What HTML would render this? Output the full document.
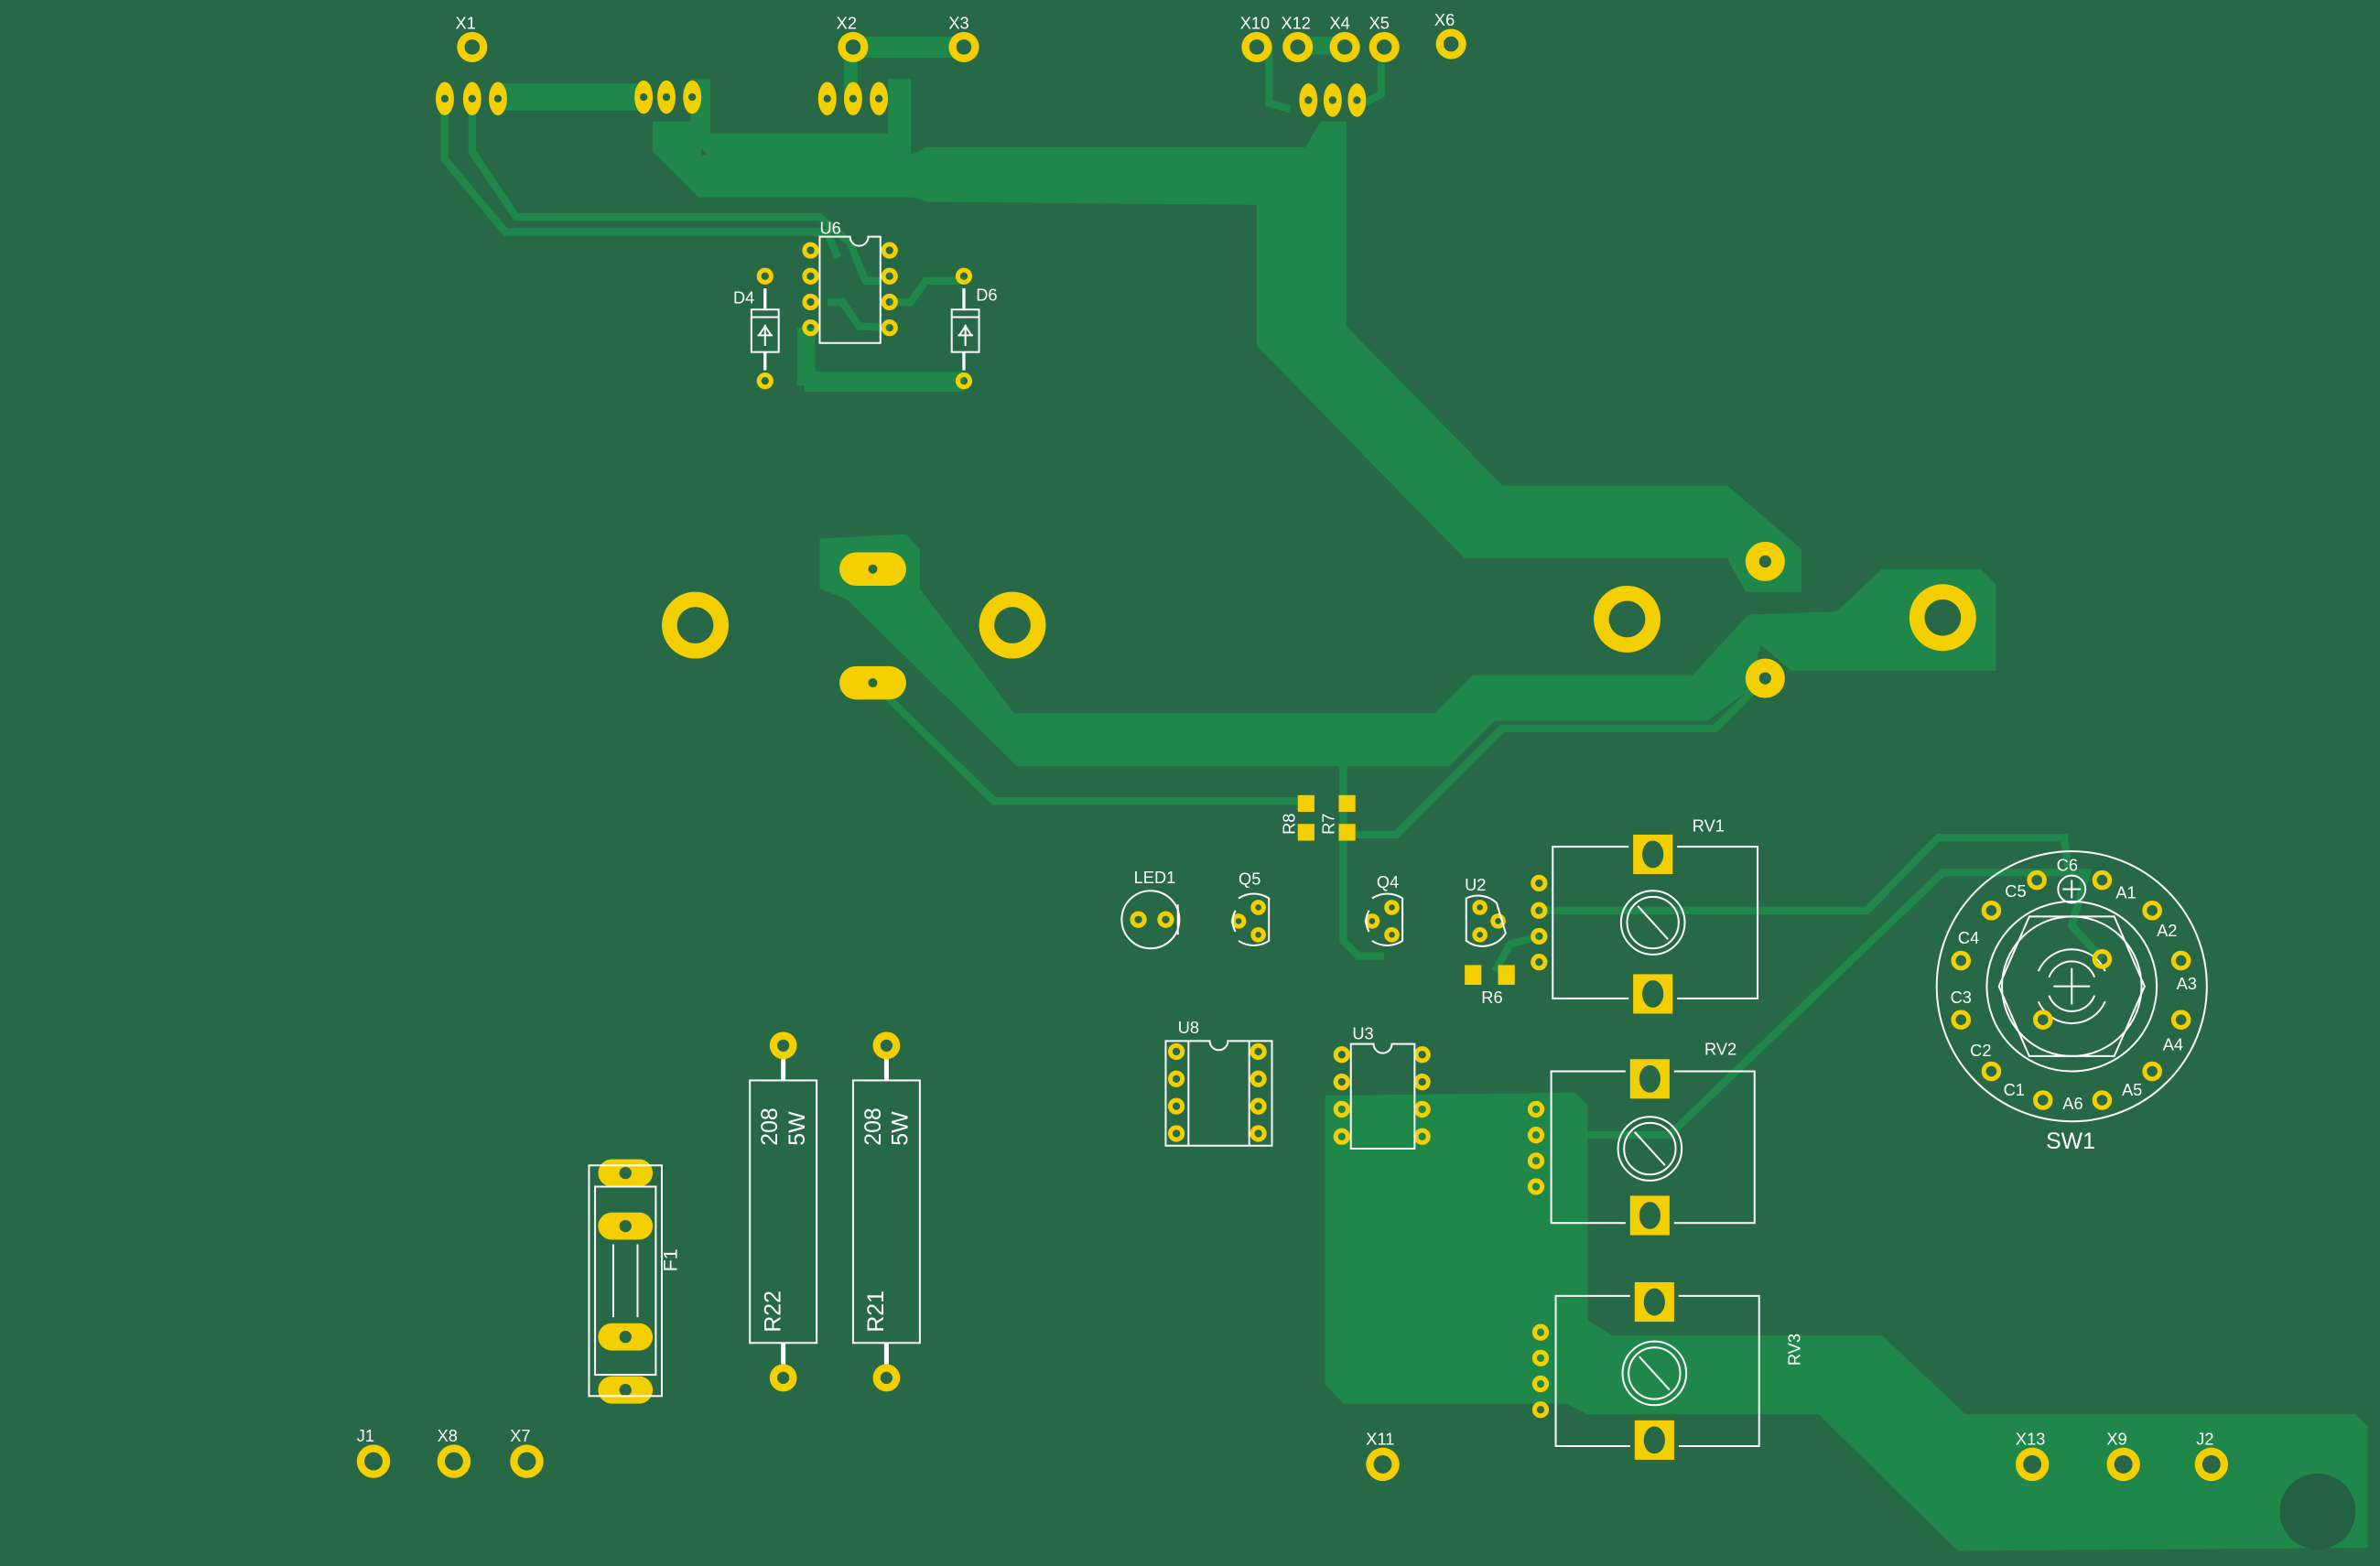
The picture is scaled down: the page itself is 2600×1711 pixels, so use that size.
<!DOCTYPE html>
<html><head><meta charset="utf-8"><style>html,body{margin:0;padding:0;background:#276846}svg{display:block}</style></head>
<body>
<svg width="2600" height="1711" viewBox="0 0 1568 1032" xmlns="http://www.w3.org/2000/svg" font-family="Liberation Sans, sans-serif">
<rect width="1568" height="1032" fill="#276846"/>
<g fill="#20874a" stroke="none">
<polygon points="430,80 462,80 462,102 600,102 610,97 860,97 870,80 887,80 887,215 990,320 1138,320 1187,362 1187,390 1150,390 1138,368 965,368 828,228 828,135 612,133 600,130 460,130 430,100"/>
<polygon points="540,355 597,352 606,362 606,388 668,470 945,470 970,445 1115,445 1152,405 1210,403 1240,375 1305,375 1315,385 1315,442 1180,442 1160,425 1152,455 1125,475 985,475 955,505 670,505 558,395 540,388"/>
<polygon points="873,722 1038,720 1046,728 1046,870 1062,880 1240,880 1295,932 1552,932 1560,940 1560,1020 1290,1022 1198,932 1046,932 1032,925 885,925 873,912"/>
<rect x="328" y="55" width="92" height="18"/>
<polygon points="455,52 468,52 468,88 585,88 585,52 600,52 600,102 466,102 455,90"/>
<rect x="562" y="24" width="73" height="14"/>
<rect x="556" y="30" width="9" height="35"/>
<rect x="850" y="24" width="40" height="12"/>
<rect x="530" y="245" width="105" height="13"/>
<rect x="525" y="216" width="12" height="38"/>
</g>
<g fill="none" stroke="#20874a" stroke-width="5">
<polyline points="293,65 293,105 333,153 545,153 552,170"/>
<polyline points="311,65 311,100 340,143 540,143 560,160 570,185 580,185"/>
<polyline points="575,450 655,528 860,528"/>
<polyline points="885,505 885,620 895,630 912,630"/>
<polyline points="888,550 920,550 990,480 1130,480 1163,447"/>
<polyline points="1014,600 1230,600 1277,552 1360,552 1363,575"/>
<polyline points="1014,748 1100,748 1280,575 1375,575 1365,610 1385,632"/>
<polyline points="836,30 836,68 850,72"/>
<polyline points="910,30 910,62 895,70"/>
<polyline points="985,640 995,622 1014,617"/>
<polyline points="586,199 600,199 610,185 636,185"/>
<polyline points="545,199 555,199 566,215 586,216"/>
</g>
<g fill="#f4cf00">
<circle cx="311" cy="31" r="10"/><circle cx="562" cy="31" r="10"/><circle cx="635" cy="31" r="10"/>
<circle cx="828" cy="31" r="10"/><circle cx="855" cy="31" r="10"/><circle cx="886" cy="31" r="10"/><circle cx="912" cy="31" r="10"/><circle cx="956" cy="29" r="10"/>
<circle cx="246" cy="963" r="11"/><circle cx="299" cy="963" r="11"/><circle cx="347" cy="963" r="11"/><circle cx="911" cy="965" r="11"/><circle cx="1339" cy="965" r="11"/><circle cx="1399" cy="965" r="11"/><circle cx="1457" cy="965" r="11"/>
<circle cx="516" cy="689" r="9"/><circle cx="516" cy="908" r="9"/><circle cx="584" cy="689" r="9"/><circle cx="584" cy="908" r="9"/>
<circle cx="458" cy="412" r="22"/><circle cx="667" cy="412" r="22"/><circle cx="1072" cy="408" r="22"/><circle cx="1280" cy="407" r="22"/>
<circle cx="1163" cy="370" r="13"/><circle cx="1163" cy="447" r="13"/>
<rect x="553" y="364" width="44" height="22" rx="11"/><rect x="553" y="439" width="44" height="22" rx="11"/>
<ellipse cx="293" cy="65" rx="6" ry="11"/><ellipse cx="311" cy="65" rx="6" ry="11"/><ellipse cx="328" cy="65" rx="6" ry="11"/>
<ellipse cx="424" cy="64" rx="6" ry="11"/><ellipse cx="439" cy="64" rx="6" ry="11"/><ellipse cx="456" cy="64" rx="6" ry="11"/>
<ellipse cx="545" cy="65" rx="6" ry="11"/><ellipse cx="562" cy="65" rx="6" ry="11"/><ellipse cx="579" cy="65" rx="6" ry="11"/>
<ellipse cx="862" cy="66" rx="6" ry="11"/><ellipse cx="878" cy="66" rx="6" ry="11"/><ellipse cx="894" cy="66" rx="6" ry="11"/>
<rect x="394" y="764" width="36" height="18" rx="9"/><rect x="394" y="799" width="36" height="18" rx="9"/><rect x="394" y="872" width="36" height="18" rx="9"/><rect x="394" y="907" width="36" height="18" rx="9"/>
<rect x="1076" y="550" width="26" height="26"/><rect x="1076" y="642" width="26" height="26"/>
<rect x="1074" y="698" width="26" height="26"/><rect x="1074" y="788" width="26" height="26"/>
<rect x="1077" y="845" width="26" height="26"/><rect x="1077" y="936" width="26" height="26"/>
<rect x="855" y="524" width="11" height="11"/><rect x="855" y="543" width="11" height="11"/><rect x="882" y="524" width="11" height="11"/><rect x="882" y="543" width="11" height="11"/>
<rect x="965" y="636" width="11" height="13"/><rect x="987" y="636" width="11" height="13"/>
</g>
<g fill="none" stroke="#f4cf00" stroke-width="3">
<circle cx="534" cy="165" r="4"/><circle cx="534" cy="182" r="4"/><circle cx="534" cy="199" r="4"/><circle cx="534" cy="216" r="4"/>
<circle cx="586" cy="165" r="4"/><circle cx="586" cy="182" r="4"/><circle cx="586" cy="199" r="4"/><circle cx="586" cy="216" r="4"/>
<circle cx="504" cy="182" r="4"/><circle cx="504" cy="251" r="4"/><circle cx="635" cy="182" r="4"/><circle cx="635" cy="251" r="4"/>
<circle cx="775" cy="693" r="4"/><circle cx="775" cy="711" r="4"/><circle cx="775" cy="729" r="4"/><circle cx="775" cy="747" r="4"/>
<circle cx="829" cy="693" r="4"/><circle cx="829" cy="711" r="4"/><circle cx="829" cy="729" r="4"/><circle cx="829" cy="747" r="4"/>
<circle cx="884" cy="695" r="4"/><circle cx="884" cy="713" r="4"/><circle cx="884" cy="731" r="4"/><circle cx="884" cy="749" r="4"/>
<circle cx="937" cy="695" r="4"/><circle cx="937" cy="713" r="4"/><circle cx="937" cy="731" r="4"/><circle cx="937" cy="749" r="4"/>
<circle cx="1014" cy="582" r="4"/><circle cx="1014" cy="600" r="4"/><circle cx="1014" cy="617" r="4"/><circle cx="1014" cy="634" r="4"/>
<circle cx="1012" cy="731" r="4"/><circle cx="1012" cy="748" r="4"/><circle cx="1012" cy="765" r="4"/><circle cx="1012" cy="782" r="4"/>
<circle cx="1015" cy="878" r="4"/><circle cx="1015" cy="895" r="4"/><circle cx="1015" cy="912" r="4"/><circle cx="1015" cy="929" r="4"/>
<circle cx="750" cy="606" r="4"/><circle cx="768" cy="606" r="4"/>
<circle cx="829" cy="598" r="3.5"/><circle cx="816" cy="607" r="3.5"/><circle cx="829" cy="616" r="3.5"/>
<circle cx="917" cy="598" r="3.5"/><circle cx="904" cy="607" r="3.5"/><circle cx="917" cy="616" r="3.5"/>
<circle cx="975" cy="598" r="3.5"/><circle cx="987" cy="607" r="3.5"/><circle cx="975" cy="616" r="3.5"/>
</g>
<g fill="#276846">
<circle cx="311" cy="31" r="5"/><circle cx="562" cy="31" r="5"/><circle cx="635" cy="31" r="5"/>
<circle cx="828" cy="31" r="5"/><circle cx="855" cy="31" r="5"/><circle cx="886" cy="31" r="5"/><circle cx="912" cy="31" r="5"/><circle cx="956" cy="29" r="5"/>
<circle cx="246" cy="963" r="6"/><circle cx="299" cy="963" r="6"/><circle cx="347" cy="963" r="6"/><circle cx="911" cy="965" r="6"/><circle cx="1339" cy="965" r="6"/><circle cx="1399" cy="965" r="6"/><circle cx="1457" cy="965" r="6"/>
<circle cx="516" cy="689" r="4"/><circle cx="516" cy="908" r="4"/><circle cx="584" cy="689" r="4"/><circle cx="584" cy="908" r="4"/>
<circle cx="458" cy="412" r="12"/><circle cx="667" cy="412" r="12"/><circle cx="1072" cy="408" r="12"/><circle cx="1280" cy="407" r="12"/>
<circle cx="1163" cy="370" r="4"/><circle cx="1163" cy="447" r="4"/>
<circle cx="575" cy="375" r="3"/><circle cx="575" cy="450" r="3"/>
<circle cx="293" cy="65" r="2.5"/><circle cx="311" cy="65" r="2.5"/><circle cx="328" cy="65" r="2.5"/><circle cx="424" cy="64" r="2.5"/><circle cx="439" cy="64" r="2.5"/><circle cx="456" cy="64" r="2.5"/><circle cx="545" cy="65" r="2.5"/><circle cx="562" cy="65" r="2.5"/><circle cx="579" cy="65" r="2.5"/><circle cx="862" cy="66" r="2.5"/><circle cx="878" cy="66" r="2.5"/><circle cx="894" cy="66" r="2.5"/>
<circle cx="412" cy="773" r="4"/><circle cx="412" cy="808" r="4"/><circle cx="412" cy="881" r="4"/><circle cx="412" cy="916" r="4"/>
<ellipse cx="1089" cy="563" rx="7" ry="9"/><ellipse cx="1089" cy="655" rx="7" ry="9"/><ellipse cx="1087" cy="711" rx="7" ry="9"/><ellipse cx="1087" cy="801" rx="7" ry="9"/><ellipse cx="1090" cy="858" rx="7" ry="9"/><ellipse cx="1090" cy="949" rx="7" ry="9"/>
<circle cx="1527" cy="996" r="25" fill="#246142"/>
</g>
<g fill="none" stroke="#fff" stroke-width="1.2">
<path d="M540,156 H560 A6,6 0 0 0 572,156 H580 V226 H540 Z"/>
<rect x="495" y="204" width="18" height="28"/><line x1="495" y1="209" x2="513" y2="209"/><line x1="504" y1="190" x2="504" y2="204" stroke-width="2"/><line x1="504" y1="232" x2="504" y2="244" stroke-width="2"/>
<path d="M499,221 h10 M504,214 v14 M500,221 l4,-6 l4,6"/>
<rect x="627" y="204" width="18" height="28"/><line x1="627" y1="209" x2="645" y2="209"/><line x1="635" y1="190" x2="635" y2="204" stroke-width="2"/><line x1="635" y1="232" x2="635" y2="244" stroke-width="2"/>
<path d="M631,221 h10 M636,214 v14 M632,221 l4,-6 l4,6"/>
<path d="M768,686 H797 A6,6 0 0 0 809,686 H838 V755 H768 Z"/><line x1="783" y1="686" x2="783" y2="755"/><line x1="823" y1="686" x2="823" y2="755"/>
<path d="M890,688 H905 A6,6 0 0 0 917,688 H932 V757 H890 Z"/>
<circle cx="758" cy="606" r="19"/><path d="M776,596 v20"/>
<path d="M816,592 a18,18 0 0 1 20,0 v28 a18,18 0 0 1 -20,0 M814,600 a14,14 0 0 0 0,14"/>
<path d="M904,592 a18,18 0 0 1 20,0 v28 a18,18 0 0 1 -20,0 M902,600 a14,14 0 0 0 0,14"/>
<path d="M966,592 a18,18 0 0 1 20,3 l6,20 a18,18 0 0 1 -26,5 Z"/>
<path d="M1073,558 H1023 V658 H1073 M1105,558 H1158 V658 H1105"/>
<circle cx="1089" cy="608" r="21"/><circle cx="1089" cy="608" r="17"/><line x1="1079" y1="597" x2="1099" y2="619"/>
<path d="M1071,706 H1022 V806 H1071 M1103,706 H1156 V806 H1103"/>
<circle cx="1087" cy="757" r="21"/><circle cx="1087" cy="757" r="17"/><line x1="1077" y1="746" x2="1097" y2="768"/>
<path d="M1074,854 H1025 V953 H1074 M1106,854 H1159 V953 H1106"/>
<circle cx="1090" cy="905" r="21"/><circle cx="1090" cy="905" r="17"/><line x1="1080" y1="894" x2="1100" y2="916"/>
<rect x="494" y="712" width="44" height="173"/><rect x="562" y="712" width="44" height="173"/>
<line x1="516" y1="698" x2="516" y2="712" stroke-width="3"/><line x1="516" y1="885" x2="516" y2="899" stroke-width="3"/>
<line x1="584" y1="698" x2="584" y2="712" stroke-width="3"/><line x1="584" y1="885" x2="584" y2="899" stroke-width="3"/>
<rect x="388" y="768" width="48" height="152"/><rect x="392" y="782" width="40" height="124"/><line x1="404" y1="820" x2="404" y2="868"/><line x1="420" y1="820" x2="420" y2="868"/>
<circle cx="1365" cy="650" r="89"/><circle cx="1365" cy="650" r="56"/><circle cx="1365" cy="650" r="46"/>
<polygon points="1317,650 1337,604 1393,604 1413,650 1393,696 1337,696"/>
<path d="M1343,640 a24,24 0 0 1 44,0 M1343,660 a24,24 0 0 0 44,0 M1350,644 a16,16 0 0 1 30,0 M1350,656 a16,16 0 0 0 30,0"/>
<path d="M1365,638 v24 M1353,650 h24"/>
<circle cx="1365" cy="586" r="9"/><path d="M1365,580 v12 M1359,586 h12"/>
</g>
<g fill="none" stroke="#f4cf00" stroke-width="3">
<circle cx="1342" cy="580" r="5"/><circle cx="1385" cy="580" r="5"/><circle cx="1418" cy="600" r="5"/><circle cx="1437" cy="633" r="5"/><circle cx="1437" cy="672" r="5"/><circle cx="1418" cy="706" r="5"/><circle cx="1385" cy="725" r="5"/><circle cx="1346" cy="725" r="5"/><circle cx="1312" cy="706" r="5"/><circle cx="1292" cy="672" r="5"/><circle cx="1292" cy="633" r="5"/><circle cx="1312" cy="600" r="5"/>
<circle cx="1385" cy="632" r="5"/><circle cx="1346" cy="672" r="5"/>
</g>
<g fill="#fff" font-size="11">
<text x="300" y="19">X1</text><text x="551" y="19">X2</text><text x="625" y="19">X3</text>
<text x="817" y="19">X10</text><text x="844" y="19">X12</text><text x="876" y="19">X4</text><text x="902" y="19">X5</text><text x="945" y="17">X6</text>
<text x="540" y="154">U6</text><text x="483" y="200">D4</text><text x="643" y="198">D6</text>
<text x="747" y="582">LED1</text><text x="816" y="583">Q5</text><text x="907" y="585">Q4</text><text x="965" y="587">U2</text><text x="976" y="661">R6</text>
<text x="776" y="681">U8</text><text x="891" y="685">U3</text>
<text x="1115" y="548">RV1</text><text x="1123" y="695">RV2</text>
<text x="235" y="950">J1</text><text x="288" y="950">X8</text><text x="336" y="950">X7</text><text x="900" y="952">X11</text><text x="1328" y="952">X13</text><text x="1388" y="952">X9</text><text x="1447" y="952">J2</text>
<text transform="translate(853,550) rotate(-90)">R8</text><text transform="translate(879,550) rotate(-90)">R7</text>
<text transform="translate(1186,900) rotate(-90)">RV3</text>
<text transform="translate(446,838) rotate(-90)" font-size="13">F1</text>
<text transform="translate(512,755) rotate(-90)" font-size="15">208</text><text transform="translate(530,755) rotate(-90)" font-size="15">5W</text>
<text transform="translate(580,755) rotate(-90)" font-size="15">208</text><text transform="translate(598,755) rotate(-90)" font-size="15">5W</text>
<text transform="translate(514,878) rotate(-90)" font-size="15">R22</text><text transform="translate(582,878) rotate(-90)" font-size="15">R21</text>
<text x="1355" y="574">C6</text><text x="1321" y="591">C5</text><text x="1394" y="592">A1</text><text x="1290" y="622">C4</text><text x="1421" y="617">A2</text><text x="1285" y="661">C3</text><text x="1434" y="652">A3</text><text x="1298" y="696">C2</text><text x="1425" y="692">A4</text><text x="1320" y="722">C1</text><text x="1359" y="731">A6</text><text x="1398" y="722">A5</text>
<text x="1348" y="757" font-size="15">SW1</text>
</g>
</svg>
</body></html>
